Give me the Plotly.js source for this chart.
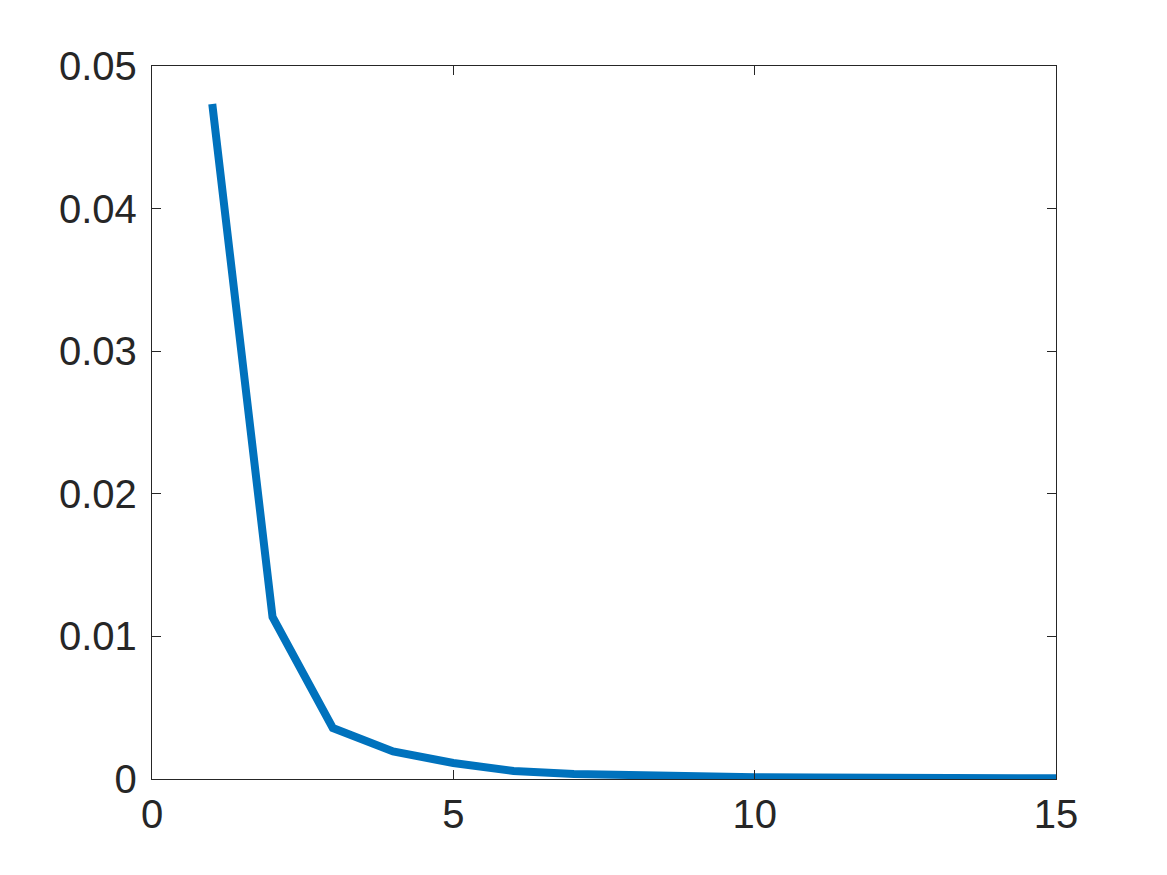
<!DOCTYPE html>
<html>
<head>
<meta charset="utf-8">
<script src="https://cdn.plot.ly/plotly-3.0.1.min.js"></script>
<style>html,body{margin:0;padding:0;background:#fff;}#chart{width:1167px;height:875px;}</style>
</head>
<body>
<div id="chart"></div>
<script>
const xValues = [1, 2, 3, 4, 5, 6, 7, 8, 9, 10, 11, 12, 13, 14, 15];
const yValues = [0.04733, 0.01136, 0.00358, 0.00193, 0.00112, 0.00056, 0.00035, 0.00025, 0.00018, 0.00012, 0.0001, 0.00008, 0.00007, 0.00006, 0.00005];
const xTicks = [0, 5, 10, 15];
const yTicks = [0, 0.01, 0.02, 0.03, 0.04, 0.05];
const yTickText = ['0', '0.01', '0.02', '0.03', '0.04', '0.05'];

const axisCommon = {
  showgrid: false,
  zeroline: false,
  showline: true,
  linecolor: '#262626',
  linewidth: 1.2,
  mirror: 'ticks',
  ticks: 'inside',
  ticklen: 9,
  tickwidth: 1,
  tickcolor: '#262626',
  tickfont: {family: 'Liberation Sans, Arial, sans-serif', size: 40, color: '#262626'}
};

const trace = {
  x: xValues,
  y: yValues,
  type: 'scatter',
  mode: 'lines',
  line: {color: '#0072BD', width: 8},
  hoverinfo: 'skip'
};

const layout = {
  width: 1167,
  height: 875,
  paper_bgcolor: '#ffffff',
  plot_bgcolor: '#ffffff',
  showlegend: false,
  margin: {l: 152, r: 111, t: 66, b: 96},
  xaxis: Object.assign({}, axisCommon, {range: [0, 15], tickvals: xTicks, ticktext: xTicks.map(String)}),
  yaxis: Object.assign({}, axisCommon, {range: [0, 0.05], tickvals: yTicks, ticktext: yTickText, ticklabelstandoff: 6})
};

Plotly.newPlot('chart', [trace], layout, {staticPlot: true, displayModeBar: false});
</script>
</body>
</html>
